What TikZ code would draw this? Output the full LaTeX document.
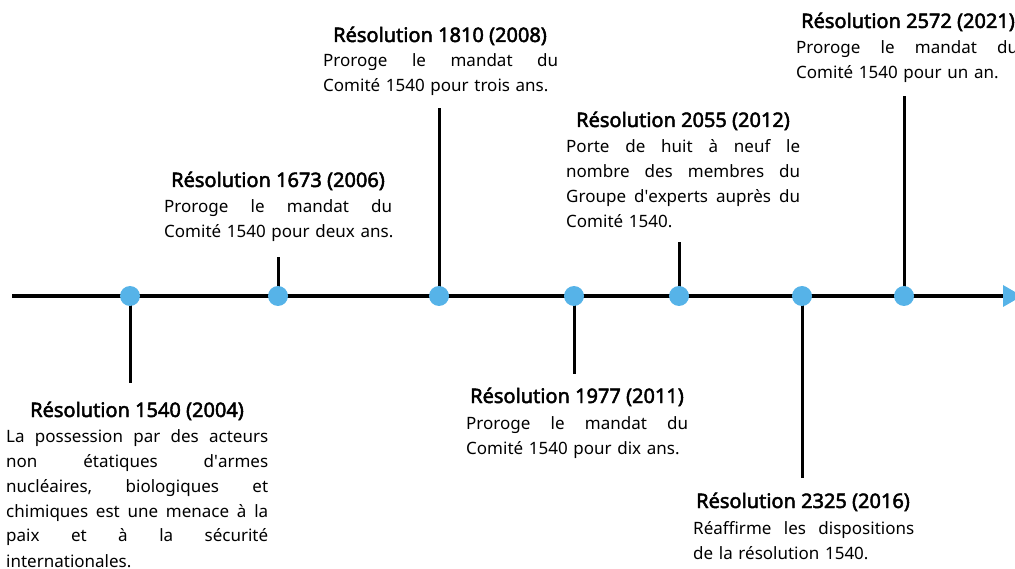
\documentclass[tikz,border=0pt]{standalone}
\usepackage{fontspec}
\setmainfont{Noto Sans}
\newfontfamily\ttlfont{Noto Sans}[FakeBold=2.4]
\definecolor{dotblue}{HTML}{56B3E8}
\newcommand\jl[1]{\leavevmode\hbox to\hsize{\frenchspacing\spaceskip=0pt plus 1fil\relax #1}\\}
\newcommand\lastln[1]{\leavevmode\hbox{#1}}
\tikzset{
  axis/.style={line width=3.5pt, black},
  stem/.style={line width=3pt, black},
  dot/.style={circle, fill=dotblue, minimum size=20pt, inner sep=0pt},
  ttl/.style={anchor=base, font=\ttlfont\fontsize{20}{25}\selectfont, inner sep=0pt},
  body/.style={anchor=base west, align=left, font=\fontsize{17}{25}\selectfont, inner sep=0pt},
}
\begin{document}
\begin{tikzpicture}[x=1pt, y=-1pt]
\useasboundingbox (0,0) rectangle (1015,569);
% axis
\coordinate (start) at (12,296);
\coordinate (end) at (1003,296);
\draw[axis] (start) -- (end);
\fill[dotblue] (1003,285) -- (1022,296) -- (1003,307) -- cycle;
% stems
\coordinate (s1) at (130,383);
\coordinate (s2) at (278,257);
\coordinate (s3) at (439,108);
\coordinate (s4) at (574,374);
\coordinate (s5) at (679,242);
\coordinate (s6) at (802,478);
\coordinate (s7) at (904,96);
\coordinate (p1) at (130,296);
\coordinate (p2) at (278,296);
\coordinate (p3) at (439,296);
\coordinate (p4) at (574,296);
\coordinate (p5) at (679,296);
\coordinate (p6) at (802,296);
\coordinate (p7) at (904,296);
\foreach \i in {1,...,7}{\draw[stem] (p\i) -- (s\i);}
\foreach \i in {1,...,7}{\node[dot] (d\i) at (p\i) {};}
% texts
\node[ttl] (t1) at (137,417) {Résolution 1540 (2004)};
\node[body, text width=262pt] (b1) at (6,442) {\jl{La possession par des acteurs}\jl{non étatiques d\textquotesingle armes}\jl{nucléaires, biologiques et}\jl{chimiques est une menace à la}\jl{paix et à la sécurité}\lastln{internationales.}};
\node[ttl] (t2) at (278,187) {Résolution 1673 (2006)};
\node[body, text width=228pt] (b2) at (164,213) {\jl{Proroge le mandat du}\lastln{Comité 1540 pour deux ans.}};
\node[ttl] (t3) at (440,42) {Résolution 1810 (2008)};
\node[body, text width=235pt] (b3) at (323,67) {\jl{Proroge le mandat du}\lastln{Comité 1540 pour trois ans.}};
\node[ttl] (t4) at (683,127) {Résolution 2055 (2012)};
\node[body, text width=234pt] (b4) at (566,153) {\jl{Porte de huit à neuf le}\jl{nombre des membres du}\jl{Groupe d\textquotesingle experts auprès du}\lastln{Comité 1540.}};
\node[ttl] (t5) at (577,403) {Résolution 1977 (2011)};
\node[body, text width=222pt] (b5) at (466,429) {\jl{Proroge le mandat du}\lastln{Comité 1540 pour dix ans.}};
\node[ttl] (t6) at (803,508) {Résolution 2325 (2016)};
\node[body, text width=221pt] (b6) at (693,534) {\jl{Réaffirme les dispositions}\lastln{de la résolution 1540.}};
\node[ttl] (t7) at (908,28) {Résolution 2572 (2021)};
\node[body, text width=222pt] (b7) at (796,54) {\jl{Proroge le mandat du}\lastln{Comité 1540 pour un an.}};
\end{tikzpicture}
\end{document}
